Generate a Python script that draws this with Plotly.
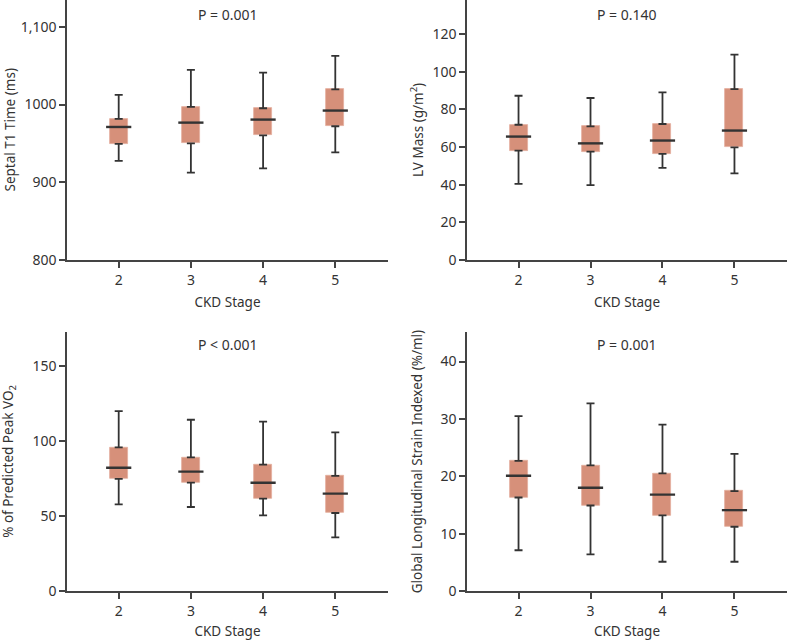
import plotly.graph_objects as go

stages = [2, 3, 4, 5]

# Panel A: Septal T1 time (ms)
t1_low = [927.5, 912.4, 918.0, 938.6]
t1_q1 = [949.4, 950.2, 960.5, 972.1]
t1_med = [971.2, 976.8, 980.7, 992.3]
t1_q3 = [981.5, 997.0, 995.3, 1019.7]
t1_high = [1012.4, 1044.6, 1041.2, 1062.7]

# Panel B: LV mass (g/m2)
lv_low = [40.5, 39.8, 49.0, 46.0]
lv_q1 = [58.1, 57.6, 56.4, 59.9]
lv_med = [65.6, 62.0, 63.5, 68.8]
lv_q3 = [71.9, 71.0, 72.3, 90.8]
lv_high = [87.3, 86.1, 89.1, 109.2]

# Panel C: % predicted peak VO2
vo_low = [57.8, 56.0, 50.4, 35.8]
vo_q1 = [74.7, 72.2, 61.6, 52.0]
vo_med = [82.2, 79.6, 72.2, 64.9]
vo_q3 = [95.8, 89.1, 84.2, 76.7]
vo_high = [120.0, 114.2, 112.9, 105.8]

# Panel D: GLS indexed (%/ml)
gl_low = [7.1, 6.4, 5.1, 5.1]
gl_q1 = [16.3, 14.9, 13.2, 11.2]
gl_med = [20.1, 18.0, 16.8, 14.1]
gl_q3 = [22.7, 21.9, 20.5, 17.4]
gl_high = [30.5, 32.7, 29.0, 23.9]

p_labels = ["P = 0.001", "P = 0.140", "P < 0.001", "P = 0.001"]
y_titles = ["Septal T1 Time (ms)", "LV Mass (g/m<sup>2</sup>)",
            "% of Predicted Peak VO<sub>2</sub>", "Global Longitudinal Strain Indexed (%/ml)"]
x_title = "CKD Stage"

panels = [
    (t1_low, t1_q1, t1_med, t1_q3, t1_high),
    (lv_low, lv_q1, lv_med, lv_q3, lv_high),
    (vo_low, vo_q1, vo_med, vo_q3, vo_high),
    (gl_low, gl_q1, gl_med, gl_q3, gl_high),
]
y_ranges = [[800, 1134.6], [0, 138.2], [0, 172.9], [0, 45.2]]
y_ticks = [[800, 900, 1000, 1100], [0, 20, 40, 60, 80, 100, 120], [0, 50, 100, 150], [0, 10, 20, 30, 40]]
y_ticktext = [["800", "900", "1000", "1,100"], None, None, None]

W, H = 788, 640
x_doms = [[67 / W, 388 / W], [467 / W, 787 / W], [67 / W, 388 / W], [467 / W, 787 / W]]
y_doms = [[1 - 260 / H, 1.0], [1 - 260 / H, 1.0], [1 - 591 / H, 1 - 331.7 / H], [1 - 591 / H, 1 - 331.7 / H]]
ytitle_x = [9.5 / W, 417 / W, 9.5 / W, 417 / W]

BOX = "#D6907A"
BOX_EDGE = "#E3AE9E"
DARK = "#333333"
AX = "#444444"
FONT = "Noto Sans"

fig = go.Figure()
for i, (lo, q1, med, q3, hi) in enumerate(panels):
    xa = "x" if i == 0 else f"x{i+1}"
    ya = "y" if i == 0 else f"y{i+1}"
    fig.add_trace(go.Scatter(
        x=stages, y=q3, mode="markers", marker=dict(size=1, opacity=0),
        error_y=dict(type="data", symmetric=False,
                     array=[h - q for h, q in zip(hi, q3)], arrayminus=[0] * 4,
                     color=DARK, thickness=1.8, width=4),
        xaxis=xa, yaxis=ya, showlegend=False, hoverinfo="skip"))
    fig.add_trace(go.Scatter(
        x=stages, y=q1, mode="markers", marker=dict(size=1, opacity=0),
        error_y=dict(type="data", symmetric=False,
                     array=[0] * 4, arrayminus=[q - l for q, l in zip(q1, lo)],
                     color=DARK, thickness=1.8, width=4),
        xaxis=xa, yaxis=ya, showlegend=False, hoverinfo="skip"))
    fig.add_trace(go.Bar(
        x=stages, y=[b - a for a, b in zip(q1, q3)], base=q1, width=0.25,
        marker=dict(color=BOX, line=dict(color=BOX_EDGE, width=0.8)),
        xaxis=xa, yaxis=ya, showlegend=False))
    fig.add_trace(go.Scatter(
        x=stages, y=med, mode="markers",
        marker=dict(symbol="line-ew", size=18, line=dict(color=DARK, width=2.4)),
        xaxis=xa, yaxis=ya, showlegend=False))

layout = dict(
    width=W, height=H, margin=dict(l=0, r=0, t=0, b=0),
    paper_bgcolor="white", plot_bgcolor="white",
    font=dict(family=FONT, size=14, color=DARK),
    bargap=0, barmode="overlay",
)
annotations = []
for i in range(4):
    xk = "xaxis" if i == 0 else f"xaxis{i+1}"
    yk = "yaxis" if i == 0 else f"yaxis{i+1}"
    ya_anchor = "y" if i == 0 else f"y{i+1}"
    xa_anchor = "x" if i == 0 else f"x{i+1}"
    layout[xk] = dict(
        domain=x_doms[i], anchor=ya_anchor, range=[1.284, 5.73],
        tickvals=stages, ticks="outside", ticklen=6, tickwidth=1.5, tickcolor=AX,
        showline=True, linecolor=AX, linewidth=1.5, showgrid=False, zeroline=False,
        tickfont=dict(size=14, color=DARK),
        title=dict(text=x_title, font=dict(size=13.5, color=DARK), standoff=10),
        automargin=False, fixedrange=True)
    yd = dict(
        domain=y_doms[i], anchor=xa_anchor, range=y_ranges[i],
        tickvals=y_ticks[i], ticks="outside", ticklen=6, tickwidth=1.5, tickcolor=AX,
        showline=True, linecolor=AX, linewidth=1.5, showgrid=False, zeroline=False,
        tickfont=dict(size=14, color=DARK),
        automargin=False, fixedrange=True)
    if y_ticktext[i] is not None:
        yd["ticktext"] = y_ticktext[i]
    layout[yk] = yd
    annotations.append(dict(
        text=p_labels[i], xref=f"{xa_anchor} domain", yref=f"{ya_anchor} domain",
        x=0.5, y=(1 - 14 / 260) if i < 2 else (1 - 12.5 / 259.3),
        showarrow=False, xanchor="center", yanchor="middle",
        font=dict(size=14, color=DARK)))
    annotations.append(dict(
        text=y_titles[i], xref="paper", yref="paper",
        x=ytitle_x[i], y=(y_doms[i][0] + y_doms[i][1]) / 2, textangle=-90,
        showarrow=False, xanchor="center", yanchor="middle",
        font=dict(size=13.5, color=DARK)))
layout["annotations"] = annotations
fig.update_layout(**layout)

fig.write_html("out.html", config={"displayModeBar": False},
               post_script="document.body.style.margin='0px';")
